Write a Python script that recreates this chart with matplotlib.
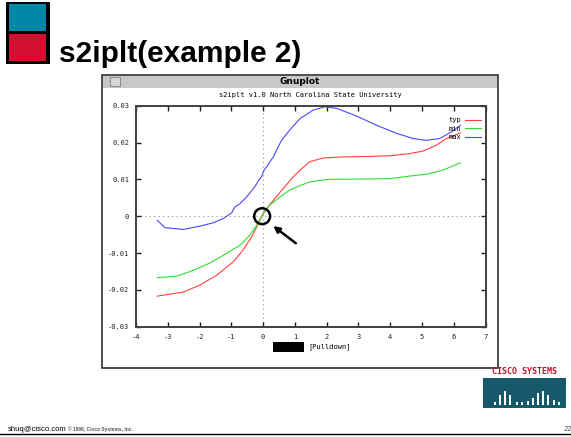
import numpy as np
import matplotlib.pyplot as plt
from matplotlib.patches import Rectangle, Ellipse

plt.rcParams['axes.unicode_minus'] = False

# curve values
typ_x = [-3.33, -2.51, -1.99, -1.46, -0.94, -0.63, -0.36, -0.20, -0.02, 0.11, 0.32, 0.63, 0.95, 1.16,
         1.47, 1.89, 2.52, 3.25, 3.99, 4.62, 5.04, 5.46, 5.77, 6.21]
typ_y = [-0.0217, -0.0206, -0.0187, -0.0160, -0.0124, -0.0092, -0.0056, -0.0029, 0.0003, 0.0021, 0.0043,
         0.0075, 0.0107, 0.0125, 0.0148, 0.0158, 0.0161, 0.0162, 0.0164, 0.0170, 0.0177, 0.0193, 0.0211, 0.0226]

min_x = [-3.33, -2.72, -2.20, -1.67, -1.15, -0.73, -0.42, -0.20, 0.00, 0.21, 0.53, 0.84, 1.16,
         1.47, 2.00, 3.25, 3.99, 4.62, 5.14, 5.66, 6.21]
min_y = [-0.0167, -0.0163, -0.0147, -0.0127, -0.0101, -0.0079, -0.0052, -0.0024, 0.0007, 0.0030, 0.0052,
         0.0071, 0.0083, 0.0093, 0.0100, 0.0101, 0.0102, 0.0109, 0.0114, 0.0125, 0.0145]

max_x = [-3.33, -3.09, -2.51, -1.99, -1.57, -1.25, -0.99, -0.89, -0.73, -0.52, -0.26, -0.12, -0.05, 0.03,
         0.11, 0.32, 0.58, 0.84, 1.16, 1.58, 1.94, 2.31, 2.94, 3.57, 4.20, 4.72, 5.14, 5.56, 5.93, 6.21]
max_y = [-0.0011, -0.0031, -0.0036, -0.0027, -0.0018, -0.0006, 0.0009, 0.0025, 0.0034, 0.0052, 0.0080,
         0.0100, 0.0107, 0.0125, 0.0134, 0.0161, 0.0206, 0.0234, 0.0265, 0.0288, 0.0297, 0.0293, 0.0272,
         0.0247, 0.0225, 0.0211, 0.0206, 0.0211, 0.0229, 0.0247]

x_ticks = [-4, -3, -2, -1, 0, 1, 2, 3, 4, 5, 6, 7]
y_ticks = [-0.03, -0.02, -0.01, 0, 0.01, 0.02, 0.03]
y_tick_labels = ['-0.03', '-0.02', '-0.01', '0', '0.01', '0.02', '0.03']

W, H = 571, 437
fig = plt.figure(figsize=(W / 100, H / 100), dpi=100)
fig.patch.set_facecolor('white')

# background layer in pixel coordinates (slide + gnuplot window)
bg = fig.add_axes([0, 0, 1, 1])
bg.set_xlim(0, W)
bg.set_ylim(H, 0)
bg.axis('off')

# slide icon squares
bg.add_patch(Rectangle((6, 2), 44, 62, facecolor='black', edgecolor='none'))
bg.add_patch(Rectangle((9, 4), 37, 27, facecolor='#0088a8', edgecolor='none'))
bg.add_patch(Rectangle((9, 34), 37, 27, facecolor='#d20f30', edgecolor='none'))
bg.text(59, 62, 's2iplt(example 2)', fontsize=21.5, fontweight='bold',
        family='Liberation Sans', color='black', va='baseline')

# gnuplot window
bg.add_patch(Rectangle((102, 75), 396, 293, facecolor='white', edgecolor='#303030', lw=1.2))
bg.add_patch(Rectangle((103, 75.5), 394, 12.5, facecolor='#c8c8c8', edgecolor='none'))
bg.add_patch(Rectangle((110, 77), 10, 9, facecolor='#d8d8d8', edgecolor='#909090', lw=0.8))
bg.text(300, 82, 'Gnuplot', fontsize=6.5, fontweight='bold', ha='center', va='center',
        family='DejaVu Sans')
bg.text(310, 95, 's2iplt v1.0 North Carolina State University', fontsize=5, ha='center',
        va='center', family='DejaVu Sans Mono')
bg.add_patch(Rectangle((273, 342), 31, 10, facecolor='black', edgecolor='none'))
bg.text(308, 347, '[Pulldown]', fontsize=5, ha='left', va='center', family='DejaVu Sans Mono')

# cisco logo
bg.text(525, 372, 'CISCO SYSTEMS', fontsize=6, fontweight='bold', color='#c0102a',
        ha='center', va='center', family='DejaVu Sans Mono')
bg.add_patch(Rectangle((483, 378), 83, 30, facecolor='#17596a', edgecolor='none'))
bar_x = [494, 499, 504, 509, 516, 521, 527, 532, 537, 542, 547, 553, 558]
bar_h = [3, 10, 14, 10, 3, 3, 4, 7, 12, 14, 10, 5, 3]
for bx, bh in zip(bar_x, bar_h):
    bg.add_patch(Rectangle((bx, 405 - bh), 1.6, bh, facecolor='white', edgecolor='none'))

# footer
bg.plot([0, W], [434, 434], color='black', lw=1)
bg.text(8, 431, 'shuq@cisco.com', fontsize=5.5, family='Liberation Sans', va='baseline')
bg.text(68, 431, '\u00a9 1998, Cisco Systems, Inc.', fontsize=3.5, fontweight='bold',
        color='#555555', family='Liberation Sans', va='baseline')
bg.text(564, 431, '22', fontsize=5.5, family='Liberation Sans', va='baseline', color='#555555')

# main gnuplot axes
left, right, top, bottom = 136, 485.5, 105.7, 326.7
ax = fig.add_axes([left / W, 1 - bottom / H, (right - left) / W, (bottom - top) / H])
ax.set_facecolor('white')
ax.plot(typ_x, typ_y, color='#ff4040', lw=0.8, label='typ')
ax.plot(min_x, min_y, color='#30e030', lw=0.8, label='min')
ax.plot(max_x, max_y, color='#4848ff', lw=0.8, label='max')
ax.axhline(0, color='#909090', lw=0.8, ls=(0, (1, 3)), zorder=0)
ax.axvline(0, color='#909090', lw=0.8, ls=(0, (1, 3)), zorder=0)

ax.set_xlim(-4, 7)
ax.set_ylim(-0.03, 0.03)
ax.set_xticks(x_ticks)
ax.set_yticks(y_ticks)
ax.set_yticklabels(y_tick_labels)
ax.tick_params(direction='in', length=3.5, width=1, top=True, right=True,
               labelsize=5, pad=5, colors='#202020')
for lab in ax.get_xticklabels() + ax.get_yticklabels():
    lab.set_family('DejaVu Sans Mono')
for sp in ax.spines.values():
    sp.set_linewidth(1.4)
    sp.set_color('#404040')

leg = ax.legend(loc='upper right', bbox_to_anchor=(1.0, 0.97), frameon=False, fontsize=5,
                markerfirst=False, handlelength=2.2, handletextpad=0.6, labelspacing=0.35,
                borderaxespad=0.3, prop={'family': 'DejaVu Sans Mono', 'size': 5})

# annotation: circle around origin and arrow
ax.add_patch(Ellipse((-0.03, 0.0), 0.5, 0.0043, facecolor='none', edgecolor='black', lw=1.8, zorder=5))
ax.annotate('', xy=(0.25, -0.0022), xytext=(1.1, -0.0078),
            arrowprops=dict(arrowstyle='-|>', color='black', lw=1.8, mutation_scale=9))

fig.savefig('out.png', dpi=100)
